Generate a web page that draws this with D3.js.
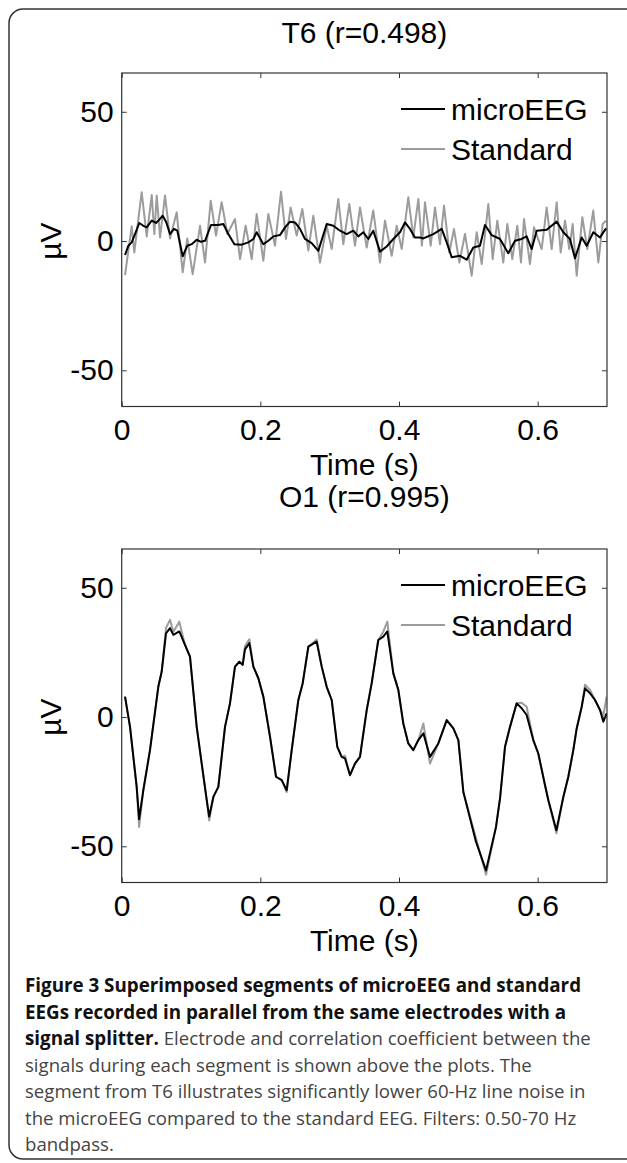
<!DOCTYPE html>
<html>
<head>
<meta charset="utf-8">
<script src="https://cdn.jsdelivr.net/npm/d3@7"></script>
<style>
  html, body { margin: 0; padding: 0; background: #fff; }
  svg { display: block; }
</style>
</head>
<body>
<svg id="chart" width="627" height="1163"></svg>
<script>
// ---------------- DATA ----------------
const xTicks = [0, 0.2, 0.4, 0.6];
const xTickLabels = ["0", "0.2", "0.4", "0.6"];
const yTicks = [-50, 0, 50];
const yTickLabels = ["-50", "0", "50"];
const seriesNames = ["microEEG", "Standard"];
const panelTitles = ["T6 (r=0.498)", "O1 (r=0.995)"];

// T6 panel: microEEG (black)
const t6MicroTime = [.0048,.0096,.0144,.0192,.0254,.0312,.0360,.0433,.0495,.0543,.0591,.0639,.0697,.0754,.0802,.0880,.0946,.1010,.1082,.1144,.1202,.1288,.1394,.1466,.1538,.1625,.1731,.1827,.1899,.1947,.2043,.2115,.2187,.2283,.2356,.2428,.2500,.2572,.2644,.2740,.2836,.2957,.3052,.3149,.3245,.3341,.3413,.3485,.3557,.3629,.3726,.3822,.3918,.4014,.4086,.4158,.4230,.4303,.4351,.4495,.4616,.4688,.4760,.4880,.4976,.5072,.5168,.5240,.5337,.5457,.5576,.5673,.5769,.5841,.5914,.5986,.6130,.6274,.6370,.6466,.6538,.6635,.6707,.6803,.6899,.6986];
const t6Micro = [-5.4,-1.8,-0.5,2.7,7.0,5.9,5.3,7.9,7.0,8.3,9.8,7.5,2.7,4.7,4.0,-5.9,-1.8,-1.2,0.5,-0.3,0.1,6.2,6.2,6.6,2.7,-1.2,-1.4,-0.5,0.8,3.4,-1.2,0.1,1.8,2.3,5.3,7.5,7.2,4.7,0.8,-0.8,-3.8,6.6,5.9,4.0,2.7,4.0,1.8,3.4,0.8,4.0,-4.1,-2.1,0.8,3.4,7.2,4.7,1.4,1.4,1.0,2.7,4.7,-0.5,-6.3,-5.7,-7.2,-2.5,-1.8,6.2,2.3,0.8,-4.7,0.1,0.8,1.8,-3.1,4.0,4.4,7.5,3.4,0.8,-6.7,1.4,-1.8,3.4,1.4,4.9];

// T6 panel: Standard (grey)
const t6StdTime = [.0048,.0144,.0182,.0288,.0361,.0433,.0471,.0505,.0553,.0625,.0697,.0793,.0880,.0946,.1024,.1130,.1202,.1284,.1360,.1442,.1524,.1634,.1707,.1788,.1875,.1947,.2043,.2115,.2211,.2298,.2370,.2437,.2524,.2605,.2692,.2764,.2860,.2957,.3029,.3124,.3197,.3283,.3365,.3437,.3534,.3629,.3726,.3798,.3894,.3966,.4039,.4134,.4206,.4279,.4330,.4375,.4457,.4519,.4591,.4649,.4726,.4793,.4870,.4952,.5048,.5120,.5193,.5288,.5351,.5418,.5504,.5562,.5634,.5706,.5759,.5803,.5889,.5947,.6058,.6130,.6202,.6274,.6332,.6394,.6456,.6505,.6563,.6644,.6716,.6802,.6875,.6938,.6985];
const t6Std = [-13.2,5.7,-4.4,18.9,1.8,17.8,2.7,17.6,1.4,17.6,1.0,11.1,-12.1,1.0,-12.8,5.9,-8.3,15.6,2.1,15.0,2.7,8.5,-7.0,5.9,-7.0,10.5,-7.6,10.5,-1.8,19.1,0.8,13.0,2.1,12.4,-3.7,9.8,-8.3,5.9,-3.1,16.3,-1.2,14.3,-1.8,13.0,-2.5,11.8,-8.3,7.9,-5.7,5.9,-3.1,16.9,1.4,16.3,-1.8,15.0,-1.8,13.0,-1.2,13.7,-4.4,4.7,-8.3,2.7,-13.4,3.4,-8.9,14.3,-7.0,7.9,-8.3,6.6,-7.0,5.9,-8.3,8.5,-8.9,5.3,-3.1,13.0,-3.1,15.0,-4.4,7.9,-3.1,6.6,-13.4,9.2,-3.1,11.8,-8.3,6.6,7.9];

// O1 panel: shared time base
const o1Time = [.0048,.0120,.0216,.0251,.0312,.0408,.0528,.0577,.0639,.0697,.0745,.0831,.0913,.0985,.1082,.1154,.1226,.1262,.1322,.1394,.1490,.1562,.1634,.1697,.1745,.1778,.1841,.1899,.1971,.2043,.2139,.2226,.2308,.2380,.2452,.2548,.2611,.2692,.2812,.2885,.2957,.3029,.3110,.3173,.3221,.3293,.3365,.3437,.3534,.3606,.3701,.3773,.3831,.3918,.3990,.4062,.4134,.4206,.4279,.4351,.4447,.4567,.4688,.4784,.4856,.4928,.5111,.5255,.5399,.5457,.5529,.5601,.5697,.5769,.5841,.5937,.6009,.6106,.6154,.6270,.6370,.6442,.6514,.6563,.6635,.6683,.6755,.6827,.6899,.6947,.6995];
const o1Micro = [7.9,-3.8,-27,-39.5,-28.3,-12.8,11.7,17.6,32.4,34.4,31.8,33.1,27.9,23.4,-3.8,-18,-32,-38.5,-30.9,-27,-3.8,5.3,19.5,21.4,20.2,26.2,28.6,19.5,15.0,7.9,-7.6,-23.1,-24.4,-28.3,-12.8,6.6,13.1,27.2,29.2,19.5,11.7,6.6,-11.5,-15.4,-16.0,-22.5,-18,-15.4,2.7,13.1,29.8,31.1,33.1,16.9,10.5,-2.5,-10.2,-12.8,-8.9,-6.3,-15.4,-10.2,-1.2,-4.4,-8.9,-29,-48.3,-59.3,-42.5,-31.5,-11.5,-3.8,5.3,3.4,0.8,-8.9,-14.1,-26.4,-32.2,-43.8,-30.9,-23.1,-12.8,-4.4,4.0,11.1,9.2,6.6,2.7,-1.8,1.4];
const o1Std = [7.9,-3.8,-27,-42.5,-28.3,-12.8,11.7,17.6,34.5,37.6,33.0,36.9,27.9,23.4,-3.8,-18,-32,-40,-30.9,-27,-3.8,5.3,19.5,21.4,20.2,27.5,30.1,19.5,15.0,7.9,-7.6,-23.1,-24.4,-29,-12.8,6.6,13.1,27.2,30.0,19.5,11.7,6.6,-11.5,-15.4,-15.0,-22.5,-18,-15.4,2.7,13.1,29.8,33.0,36.9,16.9,10.5,-2.5,-10.2,-12.8,-8.9,-2.5,-18,-10.2,-1.2,-4.4,-8.9,-29,-47,-61,-42.5,-31.5,-11.5,-3.8,5.3,5.5,4.0,-8.9,-14.1,-26.4,-32.2,-45,-30.9,-23.1,-12.8,-4.4,4.0,12.5,10.5,6.6,2.7,0.5,7.9];

const captionBold = ["Figure 3 Superimposed segments of microEEG and standard",
                     "EEGs recorded in parallel from the same electrodes with a",
                     "signal splitter."];
const captionRest = [" Electrode and correlation coefficient between the",
                     "signals during each segment is shown above the plots. The",
                     "segment from T6 illustrates significantly lower 60-Hz line noise in",
                     "the microEEG compared to the standard EEG. Filters: 0.50-70 Hz",
                     "bandpass."];

// ---------------- DRAW ----------------
const svg = d3.select("#chart");
const FONT = "'Liberation Sans', Arial, sans-serif";
const colors = {micro: "#000000", std: "#9c9c9c"};

// outer rounded frame
svg.append("rect")
  .attr("x", 9).attr("y", 9).attr("width", 660).attr("height", 1150)
  .attr("rx", 14).attr("ry", 14)
  .attr("fill", "none").attr("stroke", "#333").attr("stroke-width", 1.5);

const panels = [
  {title: panelTitles[0], top: 73, titleY: 43,
   micro: t6MicroTime.map((t,i)=>[t, t6Micro[i]]),
   std: t6StdTime.map((t,i)=>[t, t6Std[i]])},
  {title: panelTitles[1], top: 549, titleY: 507,
   micro: o1Time.map((t,i)=>[t, o1Micro[i]]),
   std: o1Time.map((t,i)=>[t, o1Std[i]])}
];

const left = 121.7, right = 607, plotH = 333.5;

panels.forEach(p => {
  const g = svg.append("g");
  const x = d3.scaleLinear().domain([0, 0.7]).range([left, right]);
  const y = d3.scaleLinear().domain([-64, 65]).range([p.top + plotH, p.top]);

  g.append("text").attr("x", (left + right) / 2).attr("y", p.titleY)
    .attr("text-anchor", "middle").attr("font-family", FONT).attr("font-size", 30)
    .text(p.title);

  const cid = "clip" + p.top;
  svg.append("clipPath").attr("id", cid).append("rect")
    .attr("x", left).attr("y", p.top).attr("width", right - left).attr("height", plotH);

  const line = d3.line().x(d => x(d[0])).y(d => y(d[1]));
  const lg = g.append("g").attr("clip-path", `url(#${cid})`);
  lg.append("path").datum(p.std).attr("d", line).attr("fill", "none")
    .attr("stroke", colors.std).attr("stroke-width", 2).attr("stroke-linejoin", "round");
  lg.append("path").datum(p.micro).attr("d", line).attr("fill", "none")
    .attr("stroke", colors.micro).attr("stroke-width", 2).attr("stroke-linejoin", "round");

  const axB = g.append("g").attr("transform", `translate(0,${p.top + plotH})`)
    .call(d3.axisBottom(x).tickValues(xTicks).tickSize(-5).tickPadding(12.5)
      .tickFormat((d, i) => xTickLabels[i]));
  const axT = g.append("g").attr("transform", `translate(0,${p.top})`)
    .call(d3.axisTop(x).tickValues(xTicks).tickSize(-5).tickFormat(""));
  const axL = g.append("g").attr("transform", `translate(${left},0)`)
    .call(d3.axisLeft(y).tickValues(yTicks).tickSize(-5).tickPadding(8)
      .tickFormat((d, i) => yTickLabels[i]));
  const axR = g.append("g").attr("transform", `translate(${right},0)`)
    .call(d3.axisRight(y).tickValues(yTicks).tickSize(-5).tickFormat(""));
  [axB, axT, axL, axR].forEach(a => {
    a.select(".domain").remove();
    a.selectAll("line").attr("stroke", "#333");
    a.selectAll("text").attr("font-family", FONT).attr("font-size", 30).attr("fill", "#000");
  });

  g.append("rect").attr("x", left).attr("y", p.top).attr("width", right - left).attr("height", plotH)
    .attr("fill", "none").attr("stroke", "#333").attr("stroke-width", 1.2);

  g.append("text").attr("x", (left + right) / 2).attr("y", p.top + plotH + 68.5)
    .attr("text-anchor", "middle").attr("font-family", FONT).attr("font-size", 30)
    .text("Time (s)");
  g.append("text")
    .attr("transform", `translate(61,${y(0)}) rotate(-90)`)
    .attr("text-anchor", "middle").attr("font-family", FONT).attr("font-size", 30)
    .text("\u00B5V");

  const legY = [p.top + 36, p.top + 76];
  [[seriesNames[0], colors.micro], [seriesNames[1], colors.std]].forEach(([name, c], i) => {
    g.append("line").attr("x1", 401).attr("x2", 445).attr("y1", legY[i]).attr("y2", legY[i])
      .attr("stroke", c).attr("stroke-width", 2);
    g.append("text").attr("x", 451).attr("y", legY[i] + 11)
      .attr("font-family", FONT).attr("font-size", 30).text(name);
  });
});

// caption
const cap = svg.append("text").attr("font-family", "'Open Sans', sans-serif");
const capX = 25, capY0 = 992, capDY = 26.5;
captionBold.forEach((s, i) => {
  cap.append("tspan").attr("x", capX).attr("y", capY0 + i * capDY)
    .attr("font-weight", 700).attr("font-size", 18.8).attr("fill", "#111").text(s);
});
cap.append("tspan").attr("fill", "#444").attr("font-size", 18.6).text(captionRest[0]);
captionRest.slice(1).forEach((s, i) => {
  cap.append("tspan").attr("x", capX).attr("y", capY0 + (i + 3) * capDY)
    .attr("fill", "#444").attr("font-size", 18.6).text(s);
});
</script>
</body>
</html>
